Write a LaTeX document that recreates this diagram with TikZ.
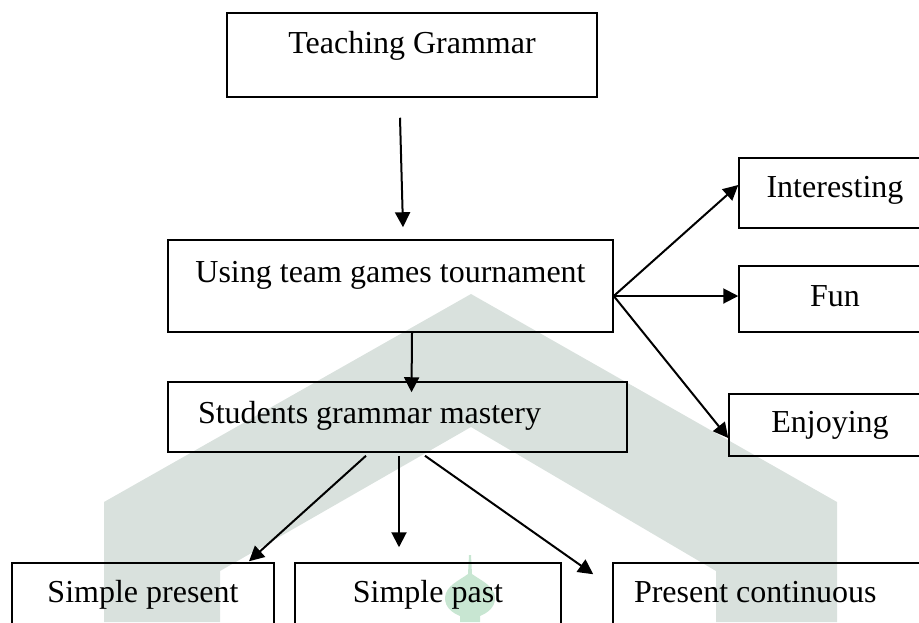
\documentclass[tikz,border=0pt]{standalone}
\usepackage{fontspec}
\setmainfont{Liberation Serif}
\usetikzlibrary{calc, arrows.meta}
\definecolor{markgray}{RGB}{217,225,221}
\definecolor{markgreen}{RGB}{200,230,210}
\tikzset{
  box/.style={draw, line width=0.75pt, inner ysep=0pt, text height=11pt, text depth=4pt,
    font=\fontsize{16}{19}\selectfont},
  link/.style={line width=1pt, -{Triangle[length=7.5pt, width=7.5pt]}}
}

\begin{document}
\begin{tikzpicture}[x=0.5pt, y=-0.5pt]
  \clip (0,0) rectangle (919,622);

  % Watermark behind the chart
  \fill[markgray] (104,622) -- (104,502) -- (471,294) -- (837,502) -- (837,622)
    -- (716,622) -- (716,571) -- (471,427) -- (220,571) -- (220,622) -- cycle;
  \fill[markgreen] (469,555) -- (471,555) -- (472,574)
    .. controls (480,580) and (495,586) .. (495,598)
    .. controls (495,608) and (487,613) .. (480,616) -- (480,622) -- (460,622) -- (460,616)
    .. controls (453,613) and (445,608) .. (445,598)
    .. controls (445,586) and (460,580) .. (468,574) -- cycle;

  % Main column
  \node[box, minimum width=185pt, minimum height=42pt, text depth=13pt] (teach) at (412,55) {Teaching Grammar};
  \node[box, minimum width=222.5pt, minimum height=46pt, text depth=15pt] (ttg) at (390.5,286) {Using team games tournament};
  \node[box, minimum height=35pt, text depth=5pt, align=flush left, text width=199.5pt, inner xsep=15pt] (sgm) at (397.5,417) {Students grammar mastery};

  % Effects on the right
  \node[box, minimum width=96pt, minimum height=35pt, text depth=7pt] (int) at (835,193) {Interesting};
  \node[box, minimum width=96pt, minimum height=33pt] (fun) at (835,299) {Fun};
  \node[box, minimum width=101pt, minimum height=31pt] (enj) at (830,425) {Enjoying};

  % Tenses at the bottom
  \node[box, minimum width=131pt, minimum height=32pt] (sp) at (143,595) {Simple present};
  \node[box, minimum width=133pt, minimum height=32pt] (spast) at (428,595) {Simple past};
  \node[box, minimum height=32pt, align=flush left, text width=145pt, inner xsep=10.5pt] (pc) at (779,595) {Present continuous};

  % Arrows
  \draw[link] ($(teach.south)+(-12,20)$) -- ($(ttg.north)+(12.5,-12)$);
  \draw[link] ($(ttg.south)+(21.5,0)$) -- ($(sgm.north)+(14,11)$);

  \coordinate (fan) at ($(ttg.east)+(0,10)$);
  \draw[link] (fan) -- ($(int.west)+(0,-8)$);
  \draw[link] (fan) -- (fan -| fun.west);
  \draw[link] (fan) -- ($(enj.west)+(0,13)$);

  \draw[link] ($(sgm.south)+(-31.5,3)$) -- ($(sp.north)+(106,-1)$);
  \draw[link] ($(sgm.south)+(1.5,3)$) -- ($(spast.north)+(-29,-15)$);
  \draw[link] ($(sgm.south)+(27.5,3)$) -- ($(pc.north west)+(-19,12)$);
\end{tikzpicture}
\end{document}
